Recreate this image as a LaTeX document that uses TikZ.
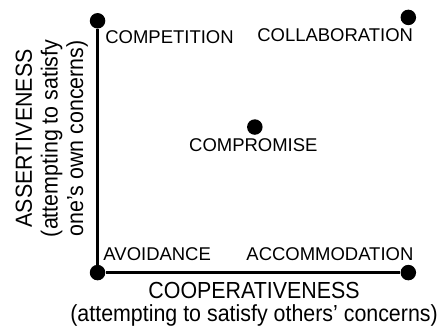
\documentclass[tikz,border=0pt]{standalone}
\usepackage{fontspec}
\setmainfont{Liberation Sans}

\begin{document}
\begin{tikzpicture}
    \tikzset{dot/.style = {shape=circle,fill,minimum size=0.41cm,inner sep=0}}
    \tikzset{mode/.style = {inner sep=0,font=\fontsize{13.9}{16}\selectfont}}
    \tikzset{axis/.style = {inner sep=0,align=center,xscale=0.92,font=\fontsize{17.5}{17.25}\selectfont}}
    \tikzset{edge/.style = {-,line width=2.25pt}}

    \useasboundingbox (-2.58,-1.47) rectangle (9.19,7.21);

    % corner and centre points
    \node[dot] (avd) at (0,0) {};
    \node[dot] (cmp) at (0,6.66) {};
    \node[dot] (col) at (8.22,6.75) {};
    \node[dot] (acc) at (8.22,0) {};
    \node[dot] (cpr) at (4.16,3.85) {};

    \draw[edge] (avd) to (cmp);
    \draw[edge] (avd) to (acc);

    % style names
    \node[mode,anchor=base west] (cmpl) at (0.20,6.07) {COMPETITION};
    \node[mode,anchor=base east] (coll) at (8.35,6.12) {COLLABORATION};
    \node[mode,anchor=base] (cprl) at (4.12,3.20) {COMPROMISE};
    \node[mode,anchor=base west] (avdl) at (0.15,0.33) {AVOIDANCE};
    \node[mode,anchor=base east] (accl) at (8.36,0.33) {ACCOMMODATION};

    % axes
    \node[axis] (coop) at (4.14,-0.84) {COOPERATIVENESS\\(attempting to satisfy others’ concerns)};
    \node[rotate=90,axis] (asrt) at (-1.21,3.55) {ASSERTIVENESS\\[2.1pt](attempting to satisfy\\[2.1pt]one’s own concerns)};
\end{tikzpicture}
\end{document}
